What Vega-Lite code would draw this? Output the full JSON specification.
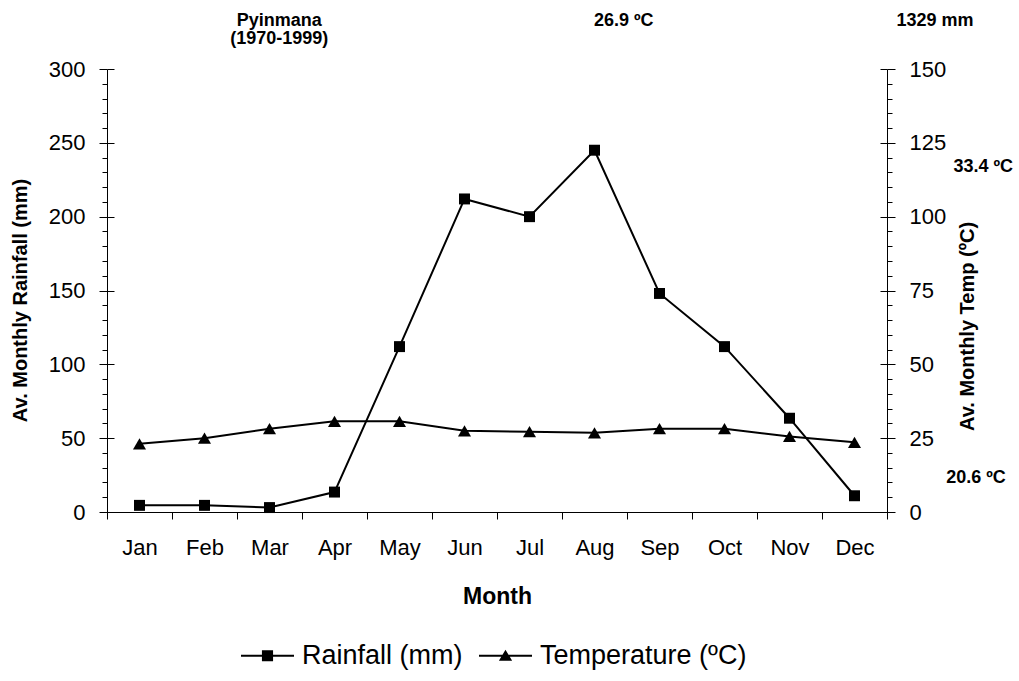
{
  "$schema": "https://vega.github.io/schema/vega-lite/v6.json",
  "width": 780,
  "height": 443,
  "autosize": {"type": "none"},
  "padding": {"left": 107, "top": 69, "right": 132, "bottom": 169},
  "background": "white",
  "config": {
    "view": {"stroke": null},
    "font": "Liberation Sans",
    "axis": {
      "grid": false,
      "domainColor": "black",
      "domainWidth": 1,
      "tickColor": "black",
      "tickWidth": 1,
      "labelColor": "black",
      "titleColor": "black",
      "labelFont": "Liberation Sans",
      "titleFont": "Liberation Sans",
      "labelFontSize": 22,
      "labelOverlap": false
    },
    "legend": {
      "labelFont": "Liberation Sans",
      "labelFontSize": 27,
      "labelColor": "black",
      "labelLimit": 0
    }
  },
  "datasets": {
    "climate": [
      {"month": "Jan", "rain": 4.5, "temp": 23.1},
      {"month": "Feb", "rain": 4.5, "temp": 25.0},
      {"month": "Mar", "rain": 3.0, "temp": 28.2},
      {"month": "Apr", "rain": 13.5, "temp": 30.7},
      {"month": "May", "rain": 112, "temp": 30.7},
      {"month": "Jun", "rain": 212, "temp": 27.5},
      {"month": "Jul", "rain": 200, "temp": 27.2},
      {"month": "Aug", "rain": 245, "temp": 26.8},
      {"month": "Sep", "rain": 148, "temp": 28.2},
      {"month": "Oct", "rain": 112, "temp": 28.2},
      {"month": "Nov", "rain": 63.5, "temp": 25.6},
      {"month": "Dec", "rain": 11, "temp": 23.6}
    ],
    "notes": [
      {"label": "Pyinmana", "px": 2.65, "py": 332.5},
      {"label": "(1970-1999)", "px": 2.65, "py": 320},
      {"label": "26.9 ºC", "px": 7.95, "py": 332.5},
      {"label": "1329 mm", "px": 12.74, "py": 332.5},
      {"label": "33.4 ºC", "px": 13.48, "py": 233.6},
      {"label": "20.6 ºC", "px": 13.37, "py": 23}
    ]
  },
  "layer": [
    {
      "data": {"name": "climate"},
      "encoding": {
        "x": {
          "field": "month",
          "type": "ordinal",
          "sort": ["Jan", "Feb", "Mar", "Apr", "May", "Jun", "Jul", "Aug", "Sep", "Oct", "Nov", "Dec"],
          "scale": {"type": "band", "paddingInner": 0, "paddingOuter": 0},
          "axis": {
            "title": "Month",
            "titleFontSize": 23,
            "titleFontWeight": "bold",
            "titlePadding": 27,
            "labelAngle": 0,
            "labelPadding": 18,
            "tickSize": 7,
            "tickBand": "extent"
          }
        }
      },
      "layer": [
        {
          "mark": {"type": "line", "color": "black", "strokeWidth": 2},
          "encoding": {
            "y": {
              "field": "rain",
              "type": "quantitative",
              "scale": {"domain": [0, 300], "nice": false, "zero": true},
              "axis": {
                "orient": "left",
                "title": "Av. Monthly Rainfall (mm)",
                "titleFontSize": 20,
                "titleFontWeight": "bold",
                "titlePadding": 18,
                "titleY": 231,
                "values": [0, 10, 20, 30, 40, 50, 60, 70, 80, 90, 100, 110, 120, 130, 140, 150, 160, 170, 180, 190, 200, 210, 220, 230, 240, 250, 260, 270, 280, 290, 300],
                "labelExpr": "datum.value % 50 === 0 ? datum.label : ''",
                "tickSize": {"condition": {"test": "datum.value % 50 === 0", "value": 8}, "value": 5},
                "labelPadding": 14
              }
            }
          }
        },
        {
          "mark": {"type": "point", "shape": "square", "filled": true, "color": "black", "opacity": 1, "size": 120},
          "encoding": {
            "y": {
              "field": "rain",
              "type": "quantitative",
              "axis": {
                "orient": "left",
                "title": null,
                "values": [0, 50, 100, 150, 200, 250, 300],
                "labels": false,
                "domain": false,
                "tickSize": -7
              }
            }
          }
        },
        {
          "mark": {"type": "point", "filled": true, "color": "black", "opacity": 0, "size": 120},
          "encoding": {
            "y": {"field": "rain", "type": "quantitative", "axis": null},
            "shape": {
              "datum": "Rainfall (mm)",
              "scale": {
                "domain": ["Rainfall (mm)", "Temperature (ºC)"],
                "range": ["M-1,-0.035H1V0.035H-1ZM-0.21,-0.21H0.21V0.21H-0.21Z", "M-1,-0.035H1V0.035H-1ZM0,-0.23L0.25,0.19H-0.25Z"]
              },
              "legend": {
                "orient": "none",
                "legendX": 134,
                "legendY": 560,
                "direction": "horizontal",
                "title": null,
                "symbolSize": 2809,
                "symbolOpacity": 1,
                "symbolFillColor": "black",
                "symbolStrokeColor": "black",
                "symbolStrokeWidth": 0,
                "labelOffset": 8,
                "columnPadding": 16
              }
            }
          }
        }
      ],
      "resolve": {"axis": {"y": "independent"}}
    },
    {
      "data": {"name": "climate"},
      "encoding": {
        "x": {
          "field": "month",
          "type": "ordinal",
          "sort": ["Jan", "Feb", "Mar", "Apr", "May", "Jun", "Jul", "Aug", "Sep", "Oct", "Nov", "Dec"],
          "scale": {"type": "band", "paddingInner": 0, "paddingOuter": 0},
          "axis": null
        }
      },
      "layer": [
        {
          "mark": {"type": "line", "color": "black", "strokeWidth": 2},
          "encoding": {
            "y": {
              "field": "temp",
              "type": "quantitative",
              "scale": {"domain": [0, 150], "nice": false, "zero": true},
              "axis": {
                "orient": "right",
                "title": "Av. Monthly Temp (ºC)",
                "titleFontSize": 20,
                "titleFontWeight": "bold",
                "titleAngle": 270,
                "titlePadding": 32,
                "titleY": 257,
                "values": [0, 5, 10, 15, 20, 25, 30, 35, 40, 45, 50, 55, 60, 65, 70, 75, 80, 85, 90, 95, 100, 105, 110, 115, 120, 125, 130, 135, 140, 145, 150],
                "labelExpr": "datum.value % 25 === 0 ? datum.label : ''",
                "tickSize": {"condition": {"test": "datum.value % 25 === 0", "value": 8}, "value": 5},
                "labelPadding": 14
              }
            }
          }
        },
        {
          "mark": {"type": "point", "shape": "triangle-up", "filled": true, "color": "black", "opacity": 1, "size": 170},
          "encoding": {
            "y": {
              "field": "temp",
              "type": "quantitative",
              "axis": {
                "orient": "right",
                "title": null,
                "values": [0, 25, 50, 75, 100, 125, 150],
                "labels": false,
                "domain": false,
                "tickSize": -7
              }
            }
          }
        }
      ],
      "resolve": {"axis": {"y": "independent"}}
    },
    {
      "data": {"name": "notes"},
      "mark": {"type": "text", "font": "Liberation Sans", "fontSize": 18, "fontWeight": "bold", "align": "center", "baseline": "middle", "color": "black", "clip": false},
      "encoding": {
        "x": {"field": "px", "type": "quantitative", "scale": {"domain": [0, 12], "nice": false, "zero": false}, "axis": null},
        "y": {"field": "py", "type": "quantitative", "scale": {"domain": [0, 300], "nice": false, "zero": false}, "axis": null},
        "text": {"field": "label"}
      }
    }
  ],
  "resolve": {"scale": {"x": "independent", "y": "independent"}}
}
